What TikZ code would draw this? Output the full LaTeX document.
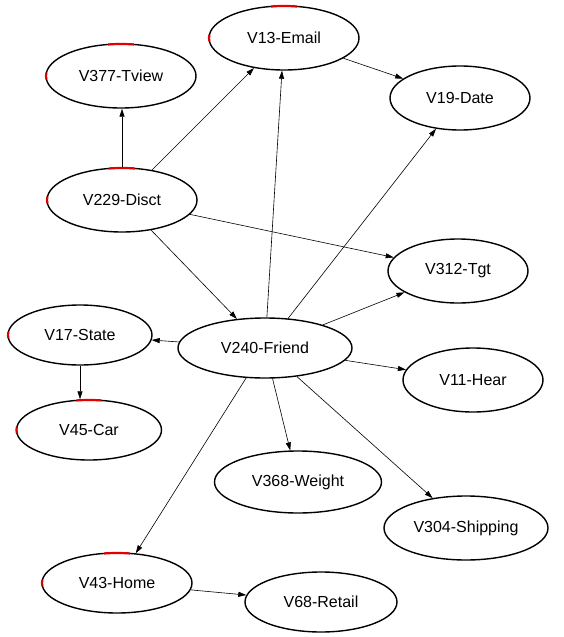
\documentclass[tikz,border=0pt]{standalone}
\usepackage{fontspec}
\setmainfont{Liberation Sans}
\usetikzlibrary{shapes.geometric,arrows.meta,calc}
\newcommand\redtop[3]{\draw[redmark] ($(#1.center)+(260:#2 and #3)$) arc[start angle=260,end angle=280,x radius=#2,y radius=#3];}
\newcommand\redleft[3]{\draw[redmark] ($(#1.center)+(174:#2 and #3)$) arc[start angle=174,end angle=186,x radius=#2,y radius=#3];}
\begin{document}
\begin{tikzpicture}[x=1pt,y=-1pt,
  var/.style={ellipse,draw,line width=1.4pt,inner sep=0pt,minimum width=#1,minimum height=62pt,font=\fontsize{16}{19}\selectfont},
  edge/.style={line width=0.6pt,-{Triangle[length=8pt,width=5pt]}},
  redmark/.style={red!90!black,line width=2.2pt}]
\useasboundingbox (0,0) rectangle (563,637);
\node[var=150pt,minimum height=64pt] (V13) at (284,38) {V13-Email};
\node[var=150pt,minimum height=64pt] (V377) at (121,76) {V377-Tview};
\node[var=150pt,minimum height=64pt] (V229) at (122,200) {V229-Disct};
\node[var=140pt,minimum height=64pt] (V19) at (460,98) {V19-Date};
\node[var=140pt,minimum height=64pt] (V312) at (458,271) {V312-Tgt};
\node[var=144pt,minimum height=60pt] (V17) at (80,335) {V17-State};
\node[var=174pt,minimum height=60pt] (V240) at (265,348) {V240-Friend};
\node[var=140pt,minimum height=64pt] (V11) at (473,380) {V11-Hear};
\node[var=145pt,minimum height=60pt] (V45) at (89,430) {V45-Car};
\node[var=167pt,minimum height=62pt] (V368) at (298,482) {V368-Weight};
\node[var=164pt,minimum height=64pt] (V304) at (466,528) {V304-Shipping};
\node[var=150pt,minimum height=60pt] (V43) at (117,583) {V43-Home};
\node[var=152pt,minimum height=60pt] (V68) at (321,602) {V68-Retail};
\redtop{V13}{75}{32}\redleft{V13}{75}{32}
\redtop{V377}{75}{32}\redleft{V377}{75}{32}
\redtop{V229}{75}{32}\redleft{V229}{75}{32}
\redleft{V17}{72}{30}
\redtop{V45}{72.5}{30}\redleft{V45}{72.5}{30}
\redtop{V43}{75}{30}\redleft{V43}{75}{30}
\draw[edge] (V229.north) -- (V229.north |- V377.south);
\draw[edge] (V229) -- (V13);
\draw[edge] (V229) -- (V312);
\draw[edge] (V229) -- (V240);
\draw[edge] (V240) -- (V13);
\draw[edge] (V240) -- (V19);
\draw[edge] (V240) -- (V312);
\draw[edge] (V240) -- (V17);
\draw[edge] (V240) -- (V11);
\draw[edge] (V240) -- (V368);
\draw[edge] (V240) -- (V304);
\draw[edge] (V240) -- (V43);
\draw[edge] (V13) -- (V19);
\draw[edge] (V17.south) -- (V17.south |- V45.north);
\draw[edge] (V43) -- (V68);
\end{tikzpicture}
\end{document}
